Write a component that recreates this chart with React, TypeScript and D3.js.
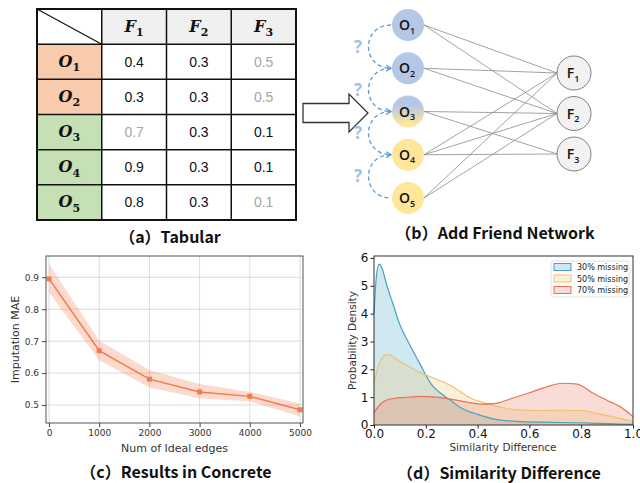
import { useEffect, useRef } from "react";
import * as d3 from "d3";

const W = 640;
const H = 483;

// (a) tabular data
const featureIds = ["1", "2", "3"];
const objectIds = ["1", "2", "3", "4", "5"];
const objectGroup = ["obs", "obs", "new", "new", "new"];
const tableValues = [
  [0.4, 0.3, 0.5],
  [0.3, 0.3, 0.5],
  [0.7, 0.3, 0.1],
  [0.9, 0.3, 0.1],
  [0.8, 0.3, 0.1],
];
const tableMissing = [
  [0, 0, 1],
  [0, 0, 1],
  [1, 0, 0],
  [0, 0, 0],
  [0, 0, 1],
];

// (c) results in concrete
const edgeCounts = [0, 1000, 2000, 3000, 4000, 5000];
const maeMean = [0.895, 0.67, 0.581, 0.541, 0.527, 0.485];
const maeLow = [0.852, 0.64, 0.555, 0.521, 0.511, 0.465];
const maeHigh = [0.942, 0.702, 0.61, 0.566, 0.541, 0.505];
const maeXTicks = [0, 1000, 2000, 3000, 4000, 5000];
const maeYTicks = [0.5, 0.6, 0.7, 0.8, 0.9];

// (d) similarity difference densities
const missingLabels = ["30% missing", "50% missing", "70% missing"];
const diff30X = [0, 0.01, 0.02, 0.03, 0.05, 0.075, 0.1, 0.14, 0.18, 0.22, 0.26, 0.29, 0.33, 0.4, 0.46, 0.55, 0.65, 0.8, 0.9, 1.0];
const diff30Y = [4.0, 5.4, 5.78, 5.65, 5.0, 4.3, 3.6, 2.85, 2.15, 1.48, 1.12, 0.92, 0.65, 0.38, 0.22, 0.13, 0.1, 0.08, 0.05, 0.02];
const diff50X = [0, 0.02, 0.05, 0.1, 0.18, 0.24, 0.3, 0.37, 0.44, 0.5, 0.56, 0.64, 0.72, 0.8, 0.86, 0.92, 1.0];
const diff50Y = [1.5, 2.2, 2.54, 2.28, 1.88, 1.65, 1.4, 0.98, 0.76, 0.62, 0.54, 0.52, 0.53, 0.52, 0.42, 0.3, 0.12];
const diff70X = [0, 0.02, 0.04, 0.08, 0.12, 0.18, 0.24, 0.3, 0.36, 0.42, 0.47, 0.54, 0.6, 0.67, 0.73, 0.78, 0.85, 0.91, 0.95, 1.0];
const diff70Y = [0.44, 0.7, 0.86, 0.96, 0.99, 1.03, 1.0, 0.92, 0.82, 0.75, 0.78, 0.98, 1.16, 1.38, 1.5, 1.48, 1.12, 0.84, 0.66, 0.3];
const diffXTicks = [0, 0.2, 0.4, 0.6, 0.8, 1.0];
const diffYTicks = [0, 1, 2, 3, 4, 5, 6];

const DENSITY_COLORS = ["#45a3c4", "#eec26f", "#e8735a"];
const MAE_COLOR = "#f47a4c";
const CAPTION_FONT = "'Noto Sans CJK SC', 'Noto Sans', sans-serif";
const PLOT_FONT = "'DejaVu Sans', sans-serif";

type Sel = d3.Selection<SVGGElement, unknown, null, undefined>;

function subText(parent: Sel, x: number, y: number, main: string, sub: string, size: number, subSize: number, font: string, extra: (t: any) => void, subStyle = "inherit") {
  const t = parent.append("text")
    .attr("x", x).attr("y", y)
    .attr("text-anchor", "middle")
    .attr("font-family", font)
    .attr("font-size", size);
  extra(t);
  t.append("tspan").text(main);
  t.append("tspan")
    .attr("font-size", subSize)
    .attr("font-style", subStyle)
    .attr("dy", subSize * 0.4)
    .text(sub);
  return t;
}

function caption(svg: Sel, x: number, y: number, text: string) {
  svg.append("text")
    .attr("x", x).attr("y", y)
    .attr("text-anchor", "middle")
    .attr("font-family", CAPTION_FONT)
    .attr("font-weight", 700)
    .attr("font-size", 16)
    .attr("fill", "#111")
    .text(text);
}

function drawTable(svg: Sel) {
  const x = d3.scaleBand<number>().domain(d3.range(4)).range([37, 296]);
  const y = d3.scaleBand<number>().domain(d3.range(6)).range([9, 220]);
  const bw = x.bandwidth();
  const bh = y.bandwidth();
  const g = svg.append("g");

  g.append("rect")
    .attr("x", x(1)!).attr("y", y(0)!)
    .attr("width", bw * 3).attr("height", bh)
    .attr("fill", "#f0f0f0");

  objectIds.forEach((id, i) => {
    g.append("rect")
      .attr("x", x(0)!).attr("y", y(i + 1)!)
      .attr("width", bw).attr("height", bh)
      .attr("fill", objectGroup[i] === "obs" ? "#f8cbad" : "#c5e0b4");
  });

  // inner grid
  d3.range(1, 4).forEach(c => {
    g.append("line")
      .attr("x1", x(c)!).attr("x2", x(c)!)
      .attr("y1", 9).attr("y2", 220)
      .attr("stroke", "#111").attr("stroke-width", 1.5);
  });
  d3.range(1, 6).forEach(r => {
    g.append("line")
      .attr("x1", 37).attr("x2", 296)
      .attr("y1", y(r)!).attr("y2", y(r)!)
      .attr("stroke", "#111").attr("stroke-width", 1.5);
  });
  g.append("rect")
    .attr("x", 37).attr("y", 9).attr("width", 259).attr("height", 211)
    .attr("fill", "none").attr("stroke", "#111").attr("stroke-width", 2);
  g.append("line")
    .attr("x1", x(0)!).attr("y1", y(0)!)
    .attr("x2", x(1)!).attr("y2", y(1)!)
    .attr("stroke", "#111").attr("stroke-width", 1.2);

  const serif = "'DejaVu Serif', 'Liberation Serif', serif";
  const boldItalic = (t: any) => t.attr("font-weight", 700).attr("font-style", "italic").attr("fill", "#111");

  featureIds.forEach((id, j) => {
    subText(g, x(j + 1)! + bw / 2, y(0)! + bh / 2 + 5, "F", id, 16, 11, serif, boldItalic, "normal");
  });
  objectIds.forEach((id, i) => {
    subText(g, x(0)! + bw / 2, y(i + 1)! + bh / 2 + 5, "O", id, 16, 11, serif, boldItalic, "normal");
  });

  tableValues.forEach((row, i) => {
    row.forEach((v, j) => {
      g.append("text")
        .attr("x", x(j + 1)! + bw / 2)
        .attr("y", y(i + 1)! + bh / 2 + 5)
        .attr("text-anchor", "middle")
        .attr("font-family", "'Liberation Sans', Arial, sans-serif")
        .attr("font-size", 14)
        .attr("fill", tableMissing[i][j] ? "#a6a6a6" : "#111")
        .text(v.toFixed(1));
    });
  });

  caption(svg, 170, 243, "（a）Tabular");
}

function drawNetwork(svg: Sel) {
  const g = svg.append("g");
  const defs = svg.append("defs");

  const grad = defs.append("linearGradient")
    .attr("id", "o3-grad").attr("x1", 0).attr("y1", 0).attr("x2", 0).attr("y2", 1);
  grad.append("stop").attr("offset", "0%").attr("stop-color", "#b4c7e7");
  grad.append("stop").attr("offset", "30%").attr("stop-color", "#b4c7e7");
  grad.append("stop").attr("offset", "90%").attr("stop-color", "#ffe699");

  defs.append("marker")
    .attr("id", "dash-arrow")
    .attr("viewBox", "0 0 8 8")
    .attr("refX", 6).attr("refY", 4)
    .attr("markerWidth", 8).attr("markerHeight", 8)
    .attr("markerUnits", "userSpaceOnUse")
    .attr("orient", "auto")
    .append("path")
    .attr("d", "M1,1 L6,4 L1,7")
    .attr("fill", "none")
    .attr("stroke", "#5b9bd5")
    .attr("stroke-width", 1.3);

  const ox = 408, fx = 574, or = 16, fr = 17;
  const oy = d3.scalePoint<string>().domain(objectIds).range([25, 198]);
  const fy = d3.scalePoint<string>().domain(featureIds).range([73, 154]);

  // big arrow
  const ax0 = 303, ax1 = 349, ax2 = 368, ay = 113;
  g.append("polygon")
    .attr("points", [
      [ax0, ay - 9.5], [ax1, ay - 9.5], [ax1, ay - 19], [ax2, ay],
      [ax1, ay + 19], [ax1, ay + 9.5], [ax0, ay + 9.5],
    ].map(p => p.join(",")).join(" "))
    .attr("fill", "#fff")
    .attr("stroke", "#333")
    .attr("stroke-width", 1.3);

  // edges for observed values
  tableValues.forEach((row, i) => {
    row.forEach((_, j) => {
      if (tableMissing[i][j]) return;
      g.append("line")
        .attr("x1", ox + or).attr("y1", oy(objectIds[i])!)
        .attr("x2", fx - fr).attr("y2", fy(featureIds[j])!)
        .attr("stroke", "#8a8a8a")
        .attr("stroke-width", 0.8);
    });
  });

  // friend links (unknown)
  d3.range(objectIds.length - 1).forEach(i => {
    const y1 = oy(objectIds[i])!;
    const y2 = oy(objectIds[i + 1])!;
    const xl = ox - or - 1;
    const path = g.append("path")
      .attr("d", `M${xl},${y1} C${xl - 30},${y1} ${xl - 30},${y2} ${xl},${y2}`)
      .attr("fill", "none")
      .attr("stroke", "#5b9bd5")
      .attr("stroke-width", 1.3)
      .attr("stroke-dasharray", "4 3");
    if (i < 3) path.attr("marker-end", "url(#dash-arrow)");
    g.append("text")
      .attr("x", 358).attr("y", (y1 + y2) / 2 + 6)
      .attr("text-anchor", "middle")
      .attr("font-family", "'Open Sans', 'Noto Sans', sans-serif")
      .attr("font-weight", 700)
      .attr("font-size", 17)
      .attr("fill", "#9dc3e6")
      .text("?");
  });

  const nodeFont = "'Open Sans', 'Noto Sans', sans-serif";
  const dark = (t: any) => t.attr("font-weight", 600).attr("fill", "#111");

  objectIds.forEach((id, i) => {
    const cy = oy(id)!;
    const fill = i < 2 ? "#b4c7e7" : i === 2 ? "url(#o3-grad)" : "#ffe699";
    g.append("circle")
      .attr("cx", ox).attr("cy", cy).attr("r", or)
      .attr("fill", fill);
    subText(g, ox - 1, cy + 5, "O", id, 14, 9, nodeFont, dark);
  });

  featureIds.forEach(id => {
    const cy = fy(id)!;
    g.append("circle")
      .attr("cx", fx).attr("cy", cy).attr("r", fr)
      .attr("fill", "#f2f2f2")
      .attr("stroke", "#7f7f7f")
      .attr("stroke-width", 1);
    subText(g, fx - 1, cy + 5, "F", id, 14, 9, nodeFont, dark);
  });

  caption(svg, 495, 239, "（b）Add Friend Network");
}

function drawMae(svg: Sel) {
  const left = 46, right = 303, top = 256, bottom = 423;
  const x = d3.scaleLinear().domain([-60, 5060]).range([left, right]);
  const y = d3.scaleLinear().domain([0.4436, 0.9667]).range([bottom, top]);
  const g = svg.append("g");

  maeXTicks.forEach(t => {
    g.append("line")
      .attr("x1", x(t)).attr("x2", x(t)).attr("y1", top).attr("y2", bottom)
      .attr("stroke", "#dcdcdc").attr("stroke-width", 1);
  });
  maeYTicks.forEach(t => {
    g.append("line")
      .attr("x1", left).attr("x2", right).attr("y1", y(t)).attr("y2", y(t))
      .attr("stroke", "#dcdcdc").attr("stroke-width", 1);
  });

  const pts = edgeCounts.map((c, i) => ({ c, m: maeMean[i], lo: maeLow[i], hi: maeHigh[i] }));

  g.append("path")
    .datum(pts)
    .attr("fill", MAE_COLOR)
    .attr("fill-opacity", 0.28)
    .attr("d", d3.area<any>().x(d => x(d.c)).y0(d => y(d.lo)).y1(d => y(d.hi)));

  g.append("path")
    .datum(pts)
    .attr("fill", "none")
    .attr("stroke", MAE_COLOR)
    .attr("stroke-width", 1.5)
    .attr("d", d3.line<any>().x(d => x(d.c)).y(d => y(d.m)));

  g.selectAll("rect.mk")
    .data(pts)
    .join("rect")
    .attr("class", "mk")
    .attr("x", d => x(d.c) - 2.5).attr("y", d => y(d.m) - 2.5)
    .attr("width", 5).attr("height", 5)
    .attr("fill", MAE_COLOR);

  g.append("rect")
    .attr("x", left).attr("y", top).attr("width", right - left).attr("height", bottom - top)
    .attr("fill", "none").attr("stroke", "#555").attr("stroke-width", 1);

  const styleAxis = (ax: any) => {
    ax.select(".domain").remove();
    ax.selectAll("line").attr("stroke", "#444");
    ax.selectAll("text")
      .attr("fill", "#333")
      .style("font-size", "9px")
      .style("font-family", PLOT_FONT);
  };

  g.append("g")
    .attr("transform", `translate(0,${bottom})`)
    .call(d3.axisBottom(x).tickValues(maeXTicks).tickFormat(d3.format("d")).tickSize(4).tickPadding(3))
    .call(styleAxis);
  g.append("g")
    .attr("transform", `translate(${left},0)`)
    .call(d3.axisLeft(y).tickValues(maeYTicks).tickFormat(d3.format(".1f")).tickSize(4).tickPadding(3))
    .call(styleAxis);

  g.append("text")
    .attr("x", (left + right) / 2).attr("y", 452)
    .attr("text-anchor", "middle")
    .attr("font-family", PLOT_FONT).attr("font-size", 11).attr("fill", "#333")
    .text("Num of Ideal edges");
  g.append("text")
    .attr("transform", `translate(19,${(top + bottom) / 2}) rotate(-90)`)
    .attr("text-anchor", "middle")
    .attr("font-family", PLOT_FONT).attr("font-size", 11).attr("fill", "#333")
    .text("Imputation MAE");

  caption(svg, 176, 478, "（c）Results in Concrete");
}

function drawDensity(svg: Sel) {
  const left = 374, right = 633, top = 256, bottom = 425;
  const x = d3.scaleLinear().domain([0, 1]).range([left, right]);
  const y = d3.scaleLinear().domain([0, 6.07]).range([bottom, top]);
  const g = svg.append("g");

  const series = [
    diff30X.map((v, i) => [v, diff30Y[i]]),
    diff50X.map((v, i) => [v, diff50Y[i]]),
    diff70X.map((v, i) => [v, diff70Y[i]]),
  ] as [number, number][][];

  const area = d3.area<[number, number]>()
    .x(d => x(d[0])).y0(y(0)).y1(d => y(d[1]))
    .curve(d3.curveMonotoneX);
  const line = d3.line<[number, number]>()
    .x(d => x(d[0])).y(d => y(d[1]))
    .curve(d3.curveMonotoneX);

  series.forEach((s, i) => {
    g.append("path").datum(s)
      .attr("fill", DENSITY_COLORS[i]).attr("fill-opacity", 0.25)
      .attr("d", area);
  });
  series.forEach((s, i) => {
    g.append("path").datum(s)
      .attr("fill", "none").attr("stroke", DENSITY_COLORS[i]).attr("stroke-width", 1.2)
      .attr("d", line);
  });

  g.append("rect")
    .attr("x", left).attr("y", top).attr("width", right - left).attr("height", bottom - top)
    .attr("fill", "none").attr("stroke", "#333").attr("stroke-width", 1);

  const styleAxis = (ax: any) => {
    ax.select(".domain").remove();
    ax.selectAll("line").attr("stroke", "#222");
    ax.selectAll("text")
      .attr("fill", "#111")
      .style("font-size", "12px")
      .style("font-family", PLOT_FONT);
  };

  g.append("g")
    .attr("transform", `translate(0,${bottom})`)
    .call(d3.axisBottom(x).tickValues(diffXTicks).tickFormat(d3.format(".1f")).tickSize(3.5).tickPadding(1))
    .call(styleAxis);
  g.append("g")
    .attr("transform", `translate(${left},0)`)
    .call(d3.axisLeft(y).tickValues(diffYTicks).tickFormat(d3.format("d")).tickSize(3.5).tickPadding(2))
    .call(styleAxis);

  g.append("text")
    .attr("x", 503).attr("y", 451)
    .attr("text-anchor", "middle")
    .attr("font-family", PLOT_FONT).attr("font-size", 10.5).attr("fill", "#333")
    .text("Similarity Difference");
  g.append("text")
    .attr("transform", `translate(356,${(top + bottom) / 2}) rotate(-90)`)
    .attr("text-anchor", "middle")
    .attr("font-family", PLOT_FONT).attr("font-size", 10.5).attr("fill", "#333")
    .text("Probability Density");

  // legend
  const lg = g.append("g").attr("transform", "translate(551,261)");
  lg.append("rect")
    .attr("width", 78).attr("height", 36).attr("rx", 2)
    .attr("fill", "#fff").attr("fill-opacity", 0.85)
    .attr("stroke", "#d8d8d8").attr("stroke-width", 0.8);
  missingLabels.forEach((lab, i) => {
    const cy = 6 + i * 11.5;
    lg.append("rect")
      .attr("x", 3).attr("y", cy - 3.5).attr("width", 17).attr("height", 7)
      .attr("fill", DENSITY_COLORS[i]).attr("fill-opacity", 0.25)
      .attr("stroke", DENSITY_COLORS[i]).attr("stroke-width", 1);
    lg.append("text")
      .attr("x", 26).attr("y", cy + 3)
      .attr("font-family", PLOT_FONT).attr("font-size", 8).attr("fill", "#222")
      .text(lab);
  });

  caption(svg, 499, 479, "（d）Similarity Difference");
}

export default function App() {
  const svgRef = useRef<SVGSVGElement>(null);

  useEffect(() => {
    if (!svgRef.current) return;
    const root = d3.select(svgRef.current);
    root.selectAll("*").remove();
    const svg = root.append("g") as Sel;
    drawTable(svg);
    drawNetwork(svg);
    drawMae(svg);
    drawDensity(svg);
  }, []);

  return (
    <div style={{ position: "absolute", left: 0, top: 0 }}>
      <svg ref={svgRef} width={W} height={H} style={{ display: "block", background: "#fff" }} />
    </div>
  );
}
